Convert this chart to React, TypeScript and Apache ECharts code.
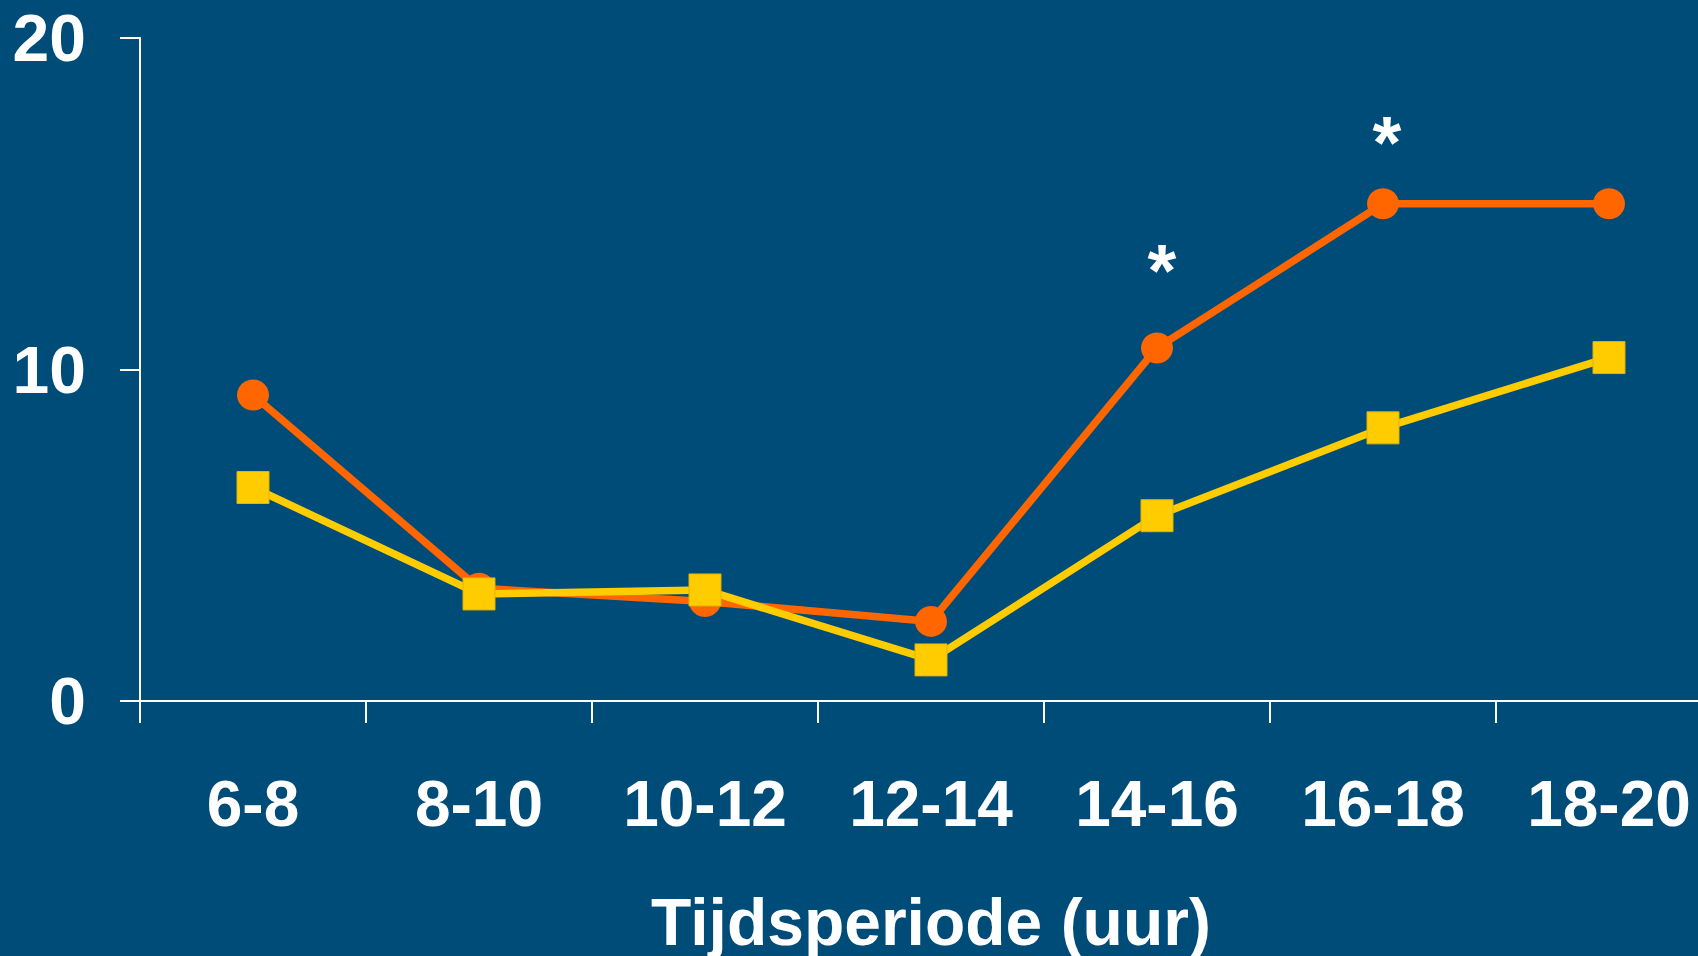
import React, { useEffect, useRef } from "react";
import * as echarts from "echarts";

const categories = ["6-8", "8-10", "10-12", "12-14", "14-16", "16-18", "18-20"];
const orangeValues = [9.23, 3.4, 3.0, 2.4, 10.65, 15.0, 15.0];
const yellowValues = [6.44, 3.23, 3.35, 1.24, 5.59, 8.24, 10.36];
const significant = ["", "", "", "", "*", "*", ""];
const yTicks = { min: 0, max: 20, interval: 10 };
const xAxisTitle = "Tijdsperiode (uur)";

const BG = "#004C79";
const ORANGE = "#FF6600";
const YELLOW = "#FFCC00";
const FONT = "'Liberation Sans', Arial, sans-serif";

const starOffsets: Record<number, [number, number]> = {
  4: [5, -77],
  5: [4, -61],
};

export default function App() {
  const ref = useRef<HTMLDivElement>(null);
  useEffect(() => {
    if (!ref.current) return;
    const chart = echarts.init(ref.current, undefined, { renderer: "svg" });
    chart.setOption({
      animation: false,
      backgroundColor: BG,
      grid: {
        left: 140,
        top: 38,
        width: 1582,
        height: 663,
        containLabel: false,
        outerBoundsMode: "none",
      },
      xAxis: {
        type: "category",
        data: categories,
        boundaryGap: true,
        name: xAxisTitle,
        nameLocation: "middle",
        nameGap: 188,
        nameTextStyle: { color: "#fff", fontSize: 66, fontWeight: "bold", fontFamily: FONT, lineHeight: 66 },
        axisLine: { show: true, lineStyle: { color: "#fff", width: 2 } },
        axisTick: { show: true, alignWithLabel: false, length: 22, lineStyle: { color: "#fff", width: 2 } },
        axisLabel: { color: "#fff", fontSize: 64, fontWeight: "bold", fontFamily: FONT, margin: 71, lineHeight: 64, interval: 0 },
        splitLine: { show: false },
      },
      yAxis: {
        type: "value",
        min: yTicks.min,
        max: yTicks.max,
        interval: yTicks.interval,
        axisLine: { show: true, lineStyle: { color: "#fff", width: 2 } },
        axisTick: { show: true, length: 20, lineStyle: { color: "#fff", width: 2 } },
        axisLabel: { color: "#fff", fontSize: 66, fontWeight: "bold", fontFamily: FONT, margin: 54 },
        splitLine: { show: false },
      },
      series: [
        {
          type: "line",
          data: orangeValues.map((v, i) => ({
            value: v,
            label: significant[i]
              ? {
                  show: true,
                  formatter: significant[i],
                  position: "inside",
                  offset: starOffsets[i] || [0, -70],
                  color: "#fff",
                  fontSize: 74,
                  fontWeight: "bold",
                  fontFamily: FONT,
                }
              : { show: false },
          })),
          symbol: "circle",
          symbolSize: [32, 31],
          itemStyle: { color: ORANGE },
          lineStyle: { color: ORANGE, width: 7.5 },
          z: 2,
        },
        {
          type: "line",
          data: yellowValues,
          symbol: "rect",
          symbolSize: 32,
          itemStyle: { color: YELLOW, borderColor: "#E0B400", borderWidth: 1 },
          lineStyle: { color: YELLOW, width: 7.5 },
          z: 3,
        },
      ],
    });
    return () => chart.dispose();
  }, []);
  return (
    <div
      ref={ref}
      style={{ position: "fixed", left: 0, top: 0, width: 1698, height: 956 }}
    />
  );
}
